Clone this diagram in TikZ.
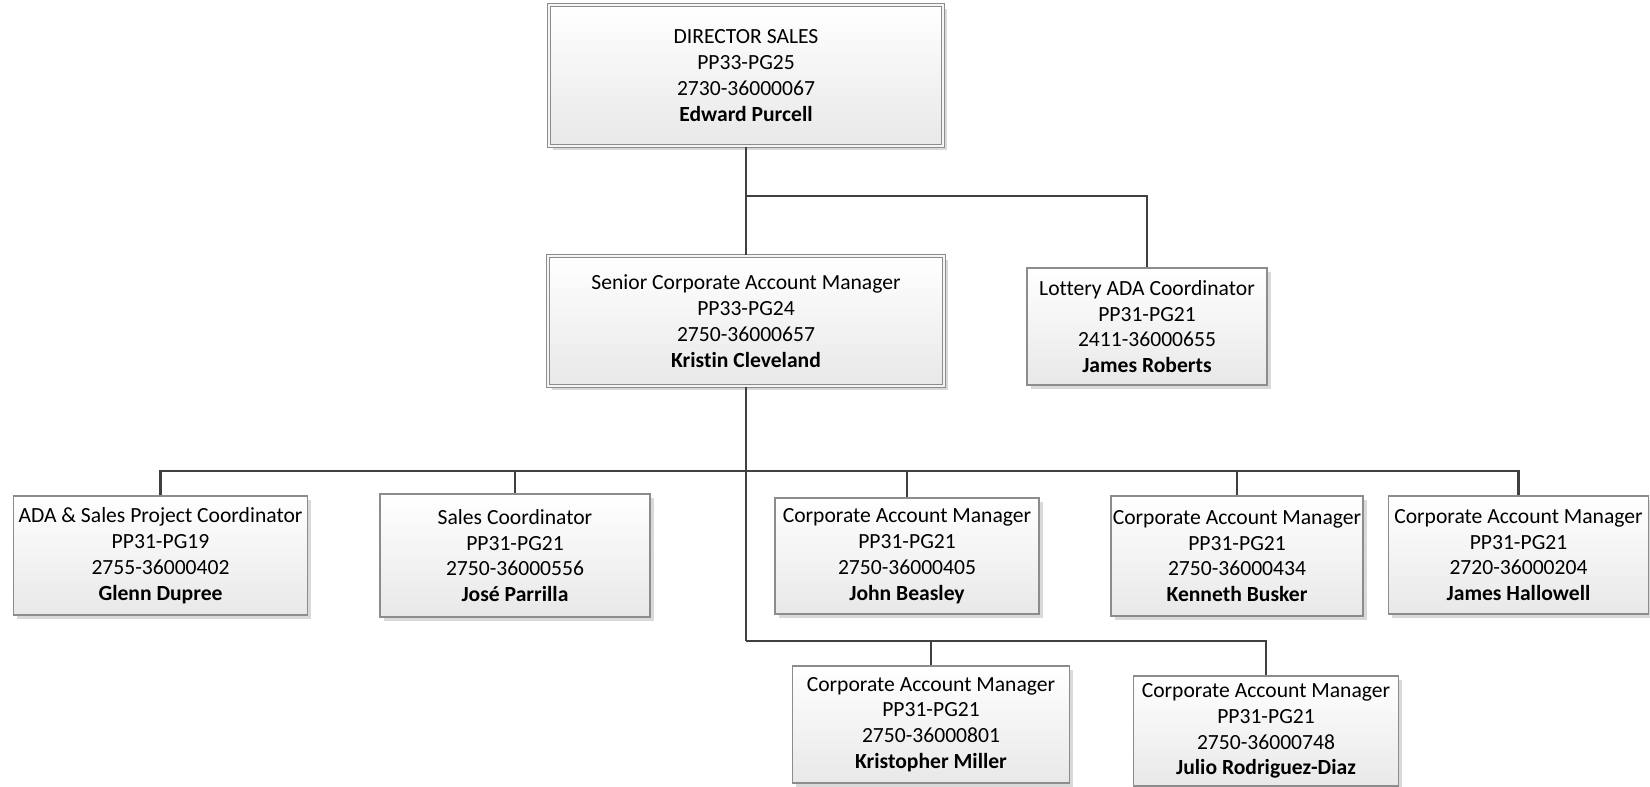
\documentclass[tikz,border=0pt]{standalone}
\usepackage{fontspec}
\setmainfont{Carlito}[Ligatures=NoCommon]
\usetikzlibrary{shadows}
\definecolor{connc}{HTML}{404040}
\definecolor{boxedge}{HTML}{8C8C8C}
\begin{document}
\begin{tikzpicture}[x=1pt,y=-1pt,
  box/.style={draw=boxedge, line width=1.2pt, top color=white, bottom color=black!9,
    align=center, inner sep=0pt, font=\fontsize{21.6}{25.8}\selectfont,
    drop shadow={shadow xshift=3.5pt, shadow yshift=-3.5pt, fill=black, opacity=0.15}},
  headbox/.style={box, double=black!4, double distance=2.4pt, line width=1.1pt},
  link/.style={draw=connc, line width=2.4pt}
]
\useasboundingbox (0,0) rectangle (1650,787);

% top levels
\node[headbox, minimum width=394pt, minimum height=141pt] (dir) at (746,75.5)
  {DIRECTOR SALES\\PP33-PG25\\2730-36000067\\\textbf{Edward Purcell}};
\node[headbox, minimum width=396pt, minimum height=130pt] (sen) at (746,321)
  {Senior Corporate Account Manager\\PP33-PG24\\2750-36000657\\\textbf{Kristin Cleveland}};
\node[box, minimum width=240pt, minimum height=117pt] (lot) at (1147,326.5)
  {Lottery ADA Coordinator\\PP31-PG21\\2411-36000655\\\textbf{James Roberts}};

% staff row
\node[box, minimum width=294pt, minimum height=119pt] (ada) at (160.5,555.5)
  {ADA \& Sales Project Coordinator\\PP31-PG19\\2755-36000402\\\textbf{Glenn Dupree}};
\node[box, minimum width=270pt, minimum height=123pt] (sal) at (515,555.5)
  {Sales Coordinator\\PP31-PG21\\2750-36000556\\\textbf{José Parrilla}};
\node[box, minimum width=264pt, minimum height=116pt] (joh) at (907,556)
  {Corporate Account Manager\\PP31-PG21\\2750-36000405\\\textbf{John Beasley}};
\node[box, minimum width=252pt, minimum height=120pt] (ken) at (1237,556)
  {Corporate Account Manager\\PP31-PG21\\2750-36000434\\\textbf{Kenneth Busker}};
\node[box, minimum width=260pt, minimum height=118pt] (ham) at (1518.5,555)
  {Corporate Account Manager\\PP31-PG21\\2720-36000204\\\textbf{James Hallowell}};

% lower row
\node[box, minimum width=277pt, minimum height=117pt] (kri) at (931,724.5)
  {Corporate Account Manager\\PP31-PG21\\2750-36000801\\\textbf{Kristopher Miller}};
\node[box, minimum width=265pt, minimum height=110pt] (jul) at (1266,731)
  {Corporate Account Manager\\PP31-PG21\\2750-36000748\\\textbf{Julio Rodriguez-Diaz}};

% connectors
\coordinate (j0) at (746,196);
\coordinate (j1) at (746,471);
\coordinate (j2) at (746,641);
\draw[link] (dir.south) -- (sen.north);
\draw[link] (j0) -| (lot.north);
\draw[link] (sen.south) -- (j2);
\draw[link] (ada.north) |- (j1) -| (ham.north);
\draw[link] (j1) -| (sal.north);
\draw[link] (j1) -| (joh.north);
\draw[link] (j1) -| (ken.north);
\draw[link] (j2) -| (jul.north);
\draw[link] (j2) -| (kri.north);
\end{tikzpicture}
\end{document}
